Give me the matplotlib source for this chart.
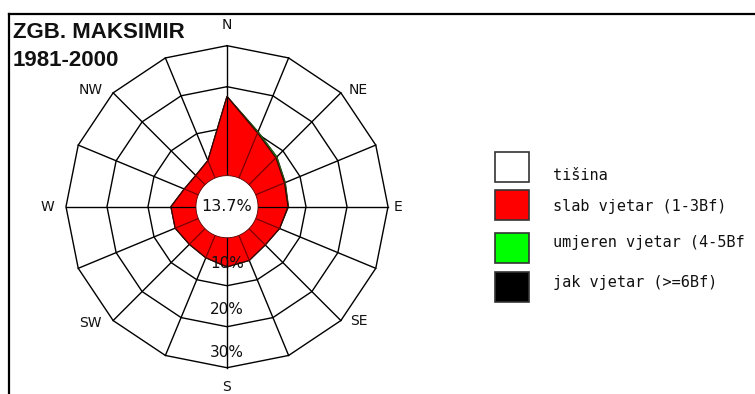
import numpy as np
import matplotlib
matplotlib.use("Agg")
import matplotlib.pyplot as plt
from matplotlib.lines import Line2D
from matplotlib.patches import Rectangle

# Wind rose data: frequency (%) per direction for each Beaufort class
directions = ["N", "NNE", "NE", "ENE", "E", "ESE", "SE", "SSE",
              "S", "SSW", "SW", "WSW", "W", "WNW", "NW", "NNW"]
slab = [17.6, 10.2, 7.6, 5.9, 5.6, 4.6, 3.9, 4.9,
        5.4, 4.2, 3.7, 4.4, 4.4, 2.0, 1.5, 2.9]
umjeren = [0.0, 0.3, 0.3, 0.2, 0.1, 0.0, 0.0, 0.0,
           0.0, 0.0, 0.0, 0.0, 0.0, 0.0, 0.0, 0.0]
jak = [0.0] * 16
calm = 13.7

ring_values = [10, 20, 30]
ring_labels = ["10%", "20%", "30%"]
compass_labels = ["N", "NE", "E", "SE", "S", "SW", "W", "NW"]
legend_labels = ["tišina", "slab vjetar (1-3Bf)", "umjeren vjetar (4-5Bf", "jak vjetar (>=6Bf)"]
legend_colors = ["#ffffff", "#ff0000", "#00ff00", "#000000"]

W, H = 755, 394
fig = plt.figure(figsize=(W / 100, H / 100), dpi=100)
fig.patch.set_facecolor("white")

# frame lines along top and left edge
fig.add_artist(Line2D([9 / W, 1], [1 - 14 / H, 1 - 14 / H], color="black", lw=1.6))
fig.add_artist(Line2D([9 / W, 9 / W], [0, 1 - 14 / H], color="black", lw=1.6))

fig.text(13 / W, 1 - 38 / H, "ZGB. MAKSIMIR", fontsize=16, fontweight="bold",
         family="Liberation Sans", va="baseline", ha="left", color="#111111")
fig.text(13 / W, 1 - 66 / H, "1981-2000", fontsize=16, fontweight="bold",
         family="Liberation Sans", va="baseline", ha="left", color="#111111")

# polar axes: centre at (227, 207) px, radius 180 px
cx, cy, R = 227, H - 206.7, 180
ax = fig.add_axes([(cx - R) / W, (cy - R) / H, 2 * R / W, 2 * R / H], projection="polar")
ax.set_theta_zero_location("N")
ax.set_theta_direction(-1)
r_center = -9.27
r_max = 34.63
ax.set_ylim(r_center, r_max)
ax.axis("off")

theta = np.deg2rad(np.arange(16) * 22.5)
theta_c = np.append(theta, theta[0])
calm_r = -1.7

# polygonal rings
for rv in [0] + ring_values:
    ax.plot(theta_c, [rv] * 17, color="black", lw=1.0, zorder=1)
# spokes
for t in theta:
    ax.plot([t, t], [calm_r, ring_values[-1]], color="black", lw=1.0, zorder=1)

# stacked frequency polygons
red_r = np.array(slab)
green_r = red_r + np.array(umjeren)
black_r = green_r + np.array(jak)
ax.fill(theta_c, np.append(black_r, black_r[0]), color="black", zorder=2)
ax.fill(theta_c, np.append(green_r, green_r[0]), facecolor="#00ff00",
        edgecolor="#2a6a1a", lw=0.6, zorder=2.5)
ax.fill(theta_c, np.append(red_r, red_r[0]), facecolor="#ff0000",
        edgecolor="#3a0000", lw=0.9, zorder=3)
for i, t in enumerate(theta):
    col = "black" if i % 4 == 0 else "#7a0000"
    ax.plot([t, t], [calm_r, red_r[i]], color=col, lw=0.9, zorder=4)

# calm disk in the middle
circ_t = np.linspace(0, 2 * np.pi, 200)
ax.fill(circ_t, [calm_r] * 200, facecolor="white", edgecolor="#5a0000", lw=0.6, zorder=5)
ax.text(0, r_center, f"{calm}%", ha="center", va="center", fontsize=11.5,
        family="DejaVu Sans", color="#111111", zorder=6)

ring_label_r = [4.6, 15.7, 26.3]
for lr, lab in zip(ring_label_r, ring_labels):
    ax.text(np.pi, lr, lab, ha="center", va="center", fontsize=11,
            family="DejaVu Sans", color="#111111", zorder=6)

compass_angle = [0, 48.5, 90, 131, 180, 229.5, 270, 310.5]
compass_r = [35.1, 33.6, 32.4, 33.4, 34.6, 34.5, 34.6, 34.6]
for ang, rr, lab in zip(compass_angle, compass_r, compass_labels):
    ax.text(np.deg2rad(ang), rr, lab, ha="center", va="center", fontsize=10,
            family="DejaVu Sans", color="#111111", zorder=6)

# legend
box_y = [152, 190, 233, 272]
text_y = [176, 206, 243, 282]
for col, lab, by, ty in zip(legend_colors, legend_labels, box_y, text_y):
    fig.add_artist(Rectangle((495 / W, 1 - (by + 30) / H), 34 / W, 30 / H,
                             facecolor=col, edgecolor="#333333", lw=1.2))
    fig.text(553 / W, 1 - ty / H, lab, fontsize=11, family="DejaVu Sans Mono",
             va="center", ha="left", color="#111111")

fig.savefig("out.png", dpi=100, facecolor="white")
